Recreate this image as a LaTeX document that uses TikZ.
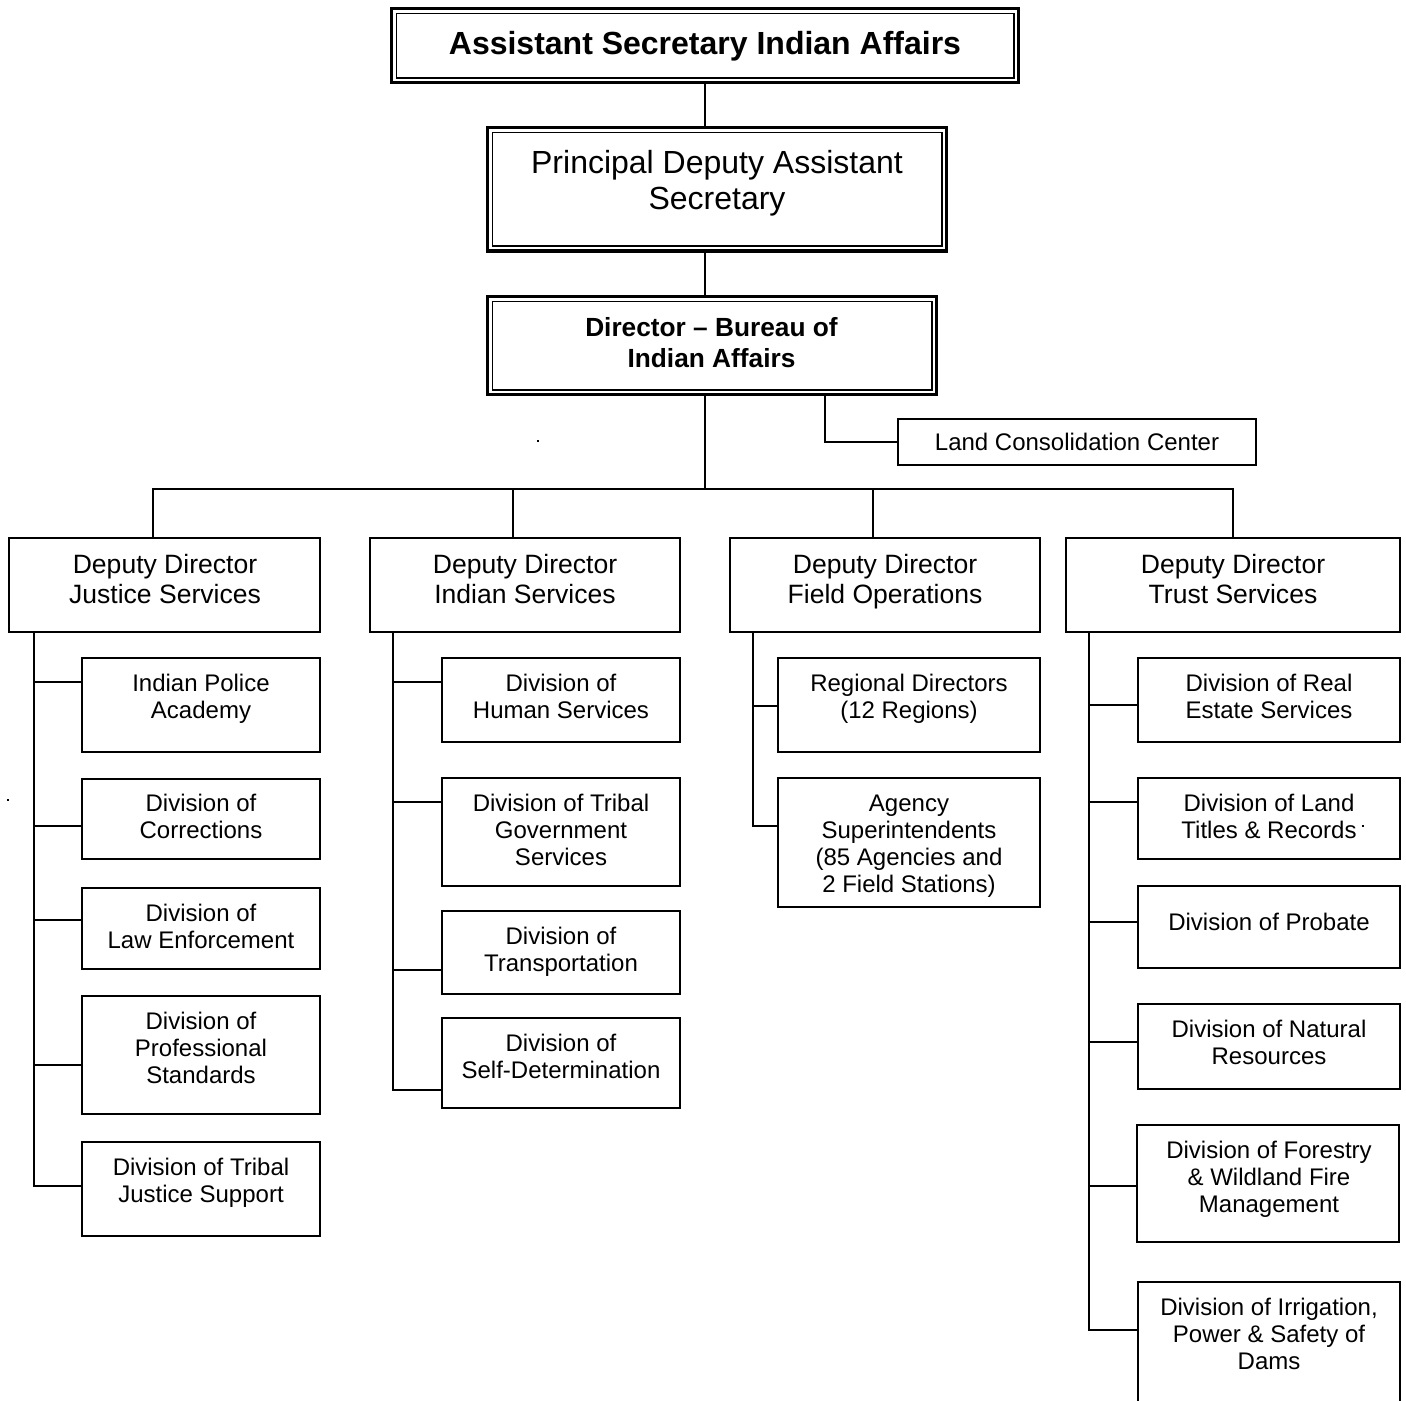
\documentclass[tikz,border=0pt]{standalone}
\usepackage{fontspec}
\setmainfont{Liberation Sans}
\newcommand\fsub{\fontsize{18}{20.25}\selectfont}
\newcommand\fdep{\fontsize{19.9}{22.5}\selectfont}
\newcommand\fpdas{\fontsize{24}{27}\selectfont}
\newcommand\fdir{\fontsize{19.7}{23.25}\selectfont\bfseries}
\newcommand\ftop{\fontsize{24}{28}\selectfont\bfseries}
% \orgbox[style]{name}{x1}{y1}{x2}{y2}  (pixel coordinates)
\newcommand\orgbox[6][]{\node[boxst,#1,minimum width={(#5-#3)*0.75pt},minimum height={(#6-#4)*0.75pt}] (#2) at ({(#3+#5)/2},{(#4+#6)/2}) {};}
\tikzset{
  boxst/.style={draw=black, line width=1.5pt, rectangle, inner sep=0pt, outer sep=0pt, fill=white},
  thickbox/.style={line width=2.4pt},
  innerframe/.style={line width=1.2pt},
  conn/.style={draw=black, line width=1.5pt},
  subt/.style={anchor=north, inner sep=0pt, align=center, font=\fsub, yshift=7.7pt},
  dept/.style={anchor=north, inner sep=0pt, align=center, font=\fdep, yshift=8.6pt},
  pdast/.style={anchor=north, inner sep=0pt, align=center, font=\fpdas, yshift=10.3pt},
  dirt/.style={anchor=north, inner sep=0pt, align=center, font=\fdir, yshift=9.2pt},
}
\begin{document}
\begin{tikzpicture}[x=0.75pt, y=-0.75pt]
\useasboundingbox (0,0) rectangle (1406,1400);
\clip (0,0) rectangle (1406,1400);
\fill[white] (0,0) rectangle (1406,1400);

% --- top three double-framed boxes ---
\orgbox[thickbox]{top}{391.5}{8.5}{1018.5}{82.5}
\draw[innerframe] ([shift={(4.8,4.8)}]top.north west) rectangle ([shift={(-4.8,-4.8)}]top.south east);
\node[anchor=base, inner sep=0pt, font=\ftop] (top-t) at (705,54.5) {Assistant Secretary Indian Affairs};

\orgbox[thickbox]{pdas}{487.5}{127.5}{946.5}{251}
\draw[innerframe] ([shift={(4.8,4.8)}]pdas.north west) rectangle ([shift={(-4.8,-4.8)}]pdas.south east);
\node[pdast] (pdas-t) at (717,162) {\strut Principal Deputy Assistant\\Secretary};

\orgbox[thickbox]{dir}{487.5}{296.5}{936.5}{394.5}
\draw[innerframe] ([shift={(4.8,4.8)}]dir.north west) rectangle ([shift={(-4.8,-4.8)}]dir.south east);
\node[dirt] (dir-t) at (711.5,327) {\strut Director -- Bureau of\\Indian Affairs};

% --- land consolidation ---
\orgbox{land}{898}{419}{1256}{465}
\node[subt] (land-t) at (1077,442) {\strut Land Consolidation Center};

% --- deputy directors ---
\orgbox{dd1}{9}{538}{320}{632}
\orgbox{dd2}{370}{538}{680}{632}
\orgbox{dd3}{730}{538}{1040}{632}
\orgbox{dd4}{1066}{538}{1400}{632}
\node[dept] (dd1-t) at (165,564) {\strut Deputy Director\\Justice Services};
\node[dept] (dd2-t) at (525,564) {\strut Deputy Director\\Indian Services};
\node[dept] (dd3-t) at (885,564) {\strut Deputy Director\\Field Operations};
\node[dept] (dd4-t) at (1233,564) {\strut Deputy Director\\Trust Services};

% --- column 1 ---
\orgbox{ipa}{82}{658}{320}{752}
\orgbox{cor}{82}{779}{320}{859}
\orgbox{law}{82}{888}{320}{969}
\orgbox{pro}{82}{996}{320}{1114}
\orgbox{tjs}{82}{1142}{320}{1236}
\node[subt] (ipa-t) at (201,683) {\strut Indian Police\\Academy};
\node[subt] (cor-t) at (201,803) {\strut Division of\\Corrections};
\node[subt] (law-t) at (201,913) {\strut Division of\\Law Enforcement};
\node[subt] (pro-t) at (201,1021) {\strut Division of\\Professional\\Standards};
\node[subt] (tjs-t) at (201,1167) {\strut Division of Tribal\\Justice Support};

% --- column 2 ---
\orgbox{hum}{442}{658}{680}{742}
\orgbox{tgs}{442}{778}{680}{886}
\orgbox{tra}{442}{911}{680}{994}
\orgbox{sdt}{442}{1018}{680}{1108}
\node[subt] (hum-t) at (561,683) {\strut Division of\\Human Services};
\node[subt] (tgs-t) at (561,803) {\strut Division of Tribal\\Government\\Services};
\node[subt] (tra-t) at (561,936) {\strut Division of\\Transportation};
\node[subt] (sdt-t) at (561,1043) {\strut Division of\\Self-Determination};

% --- column 3 ---
\orgbox{reg}{778}{658}{1040}{752}
\orgbox{agy}{778}{778}{1040}{907}
\node[subt] (reg-t) at (909,683) {\strut Regional Directors\\(12 Regions)};
\node[subt] (agy-t) at (909,803) {\strut Agency\\Superintendents\\(85 Agencies and\\2 Field Stations)};

% --- column 4 ---
\orgbox{res}{1138}{658}{1400}{742}
\orgbox{ltr}{1138}{778}{1400}{859}
\orgbox{prb}{1138}{886}{1400}{968}
\orgbox{nat}{1138}{1004}{1400}{1089}
\orgbox{frs}{1137}{1125}{1399}{1242}
\orgbox{irr}{1138}{1282}{1400}{1420}
\node[subt] (res-t) at (1269,683) {\strut Division of Real\\Estate Services};
\node[subt] (ltr-t) at (1269,803) {\strut Division of Land\\Titles \& Records};
\node[subt] (prb-t) at (1269,922) {\strut Division of Probate};
\node[subt] (nat-t) at (1269,1029) {\strut Division of Natural\\Resources};
\node[subt] (frs-t) at (1269,1150) {\strut Division of Forestry\\\& Wildland Fire\\Management};
\node[subt] (irr-t) at (1269,1307) {\strut Division of Irrigation,\\Power \& Safety of\\Dams};

% --- connectors: top chain ---
\coordinate (busY) at (0,489);
\draw[conn] (top.south) -- (top.south |- pdas.north);
\draw[conn] (pdas.south -| top.south) -- (dir.north -| top.south);
\draw[conn] (dir.south -| top.south) -- (top.south |- busY);
\draw[conn] ([xshift=84.75pt]dir.south) |- (land.west);

% --- bus to deputies ---
\draw[conn] ([xshift=-9pt]dd1.north) -- ([xshift=-9pt]dd1.north |- busY) -- (dd4.north |- busY) -- (dd4.north);
\draw[conn] ([xshift=-9pt]dd2.north) -- ([xshift=-9pt]dd2.north |- busY);
\draw[conn] ([xshift=-9pt]dd3.north) -- ([xshift=-9pt]dd3.north |- busY);

% --- column 1 connectors ---
\coordinate (v1) at (dd1.south -| 34,0);
\draw[conn] (v1) |- (tjs.west |- 0,1186);
\draw[conn] (ipa.west |- 0,682) -- (v1 |- 0,682);
\draw[conn] (cor.west |- 0,826) -- (v1 |- 0,826);
\draw[conn] (law.west |- 0,920) -- (v1 |- 0,920);
\draw[conn] (pro.west |- 0,1065) -- (v1 |- 0,1065);

% --- column 2 connectors ---
\coordinate (v2) at (dd2.south -| 393,0);
\draw[conn] (v2) |- (sdt.west |- 0,1090);
\draw[conn] (hum.west |- 0,682) -- (v2 |- 0,682);
\draw[conn] (tgs.west |- 0,802) -- (v2 |- 0,802);
\draw[conn] (tra.west |- 0,970) -- (v2 |- 0,970);

% --- column 3 connectors ---
\coordinate (v3) at (dd3.south -| 753,0);
\draw[conn] (v3) |- (agy.west |- 0,826);
\draw[conn] (reg.west |- 0,706) -- (v3 |- 0,706);

% --- column 4 connectors ---
\coordinate (v4) at (dd4.south -| 1089,0);
\draw[conn] (v4) |- (irr.west |- 0,1330);
\draw[conn] (res.west |- 0,705) -- (v4 |- 0,705);
\draw[conn] (ltr.west |- 0,802) -- (v4 |- 0,802);
\draw[conn] (prb.west |- 0,922) -- (v4 |- 0,922);
\draw[conn] (nat.west |- 0,1042) -- (v4 |- 0,1042);
\draw[conn] (frs.west |- 0,1186) -- (v4 |- 0,1186);

% --- stray dots ---
\fill (537,440) rectangle (539,442);
\fill (7,799) rectangle (9,801);
\fill (1362,825) rectangle (1364,827);
\end{tikzpicture}
\end{document}
